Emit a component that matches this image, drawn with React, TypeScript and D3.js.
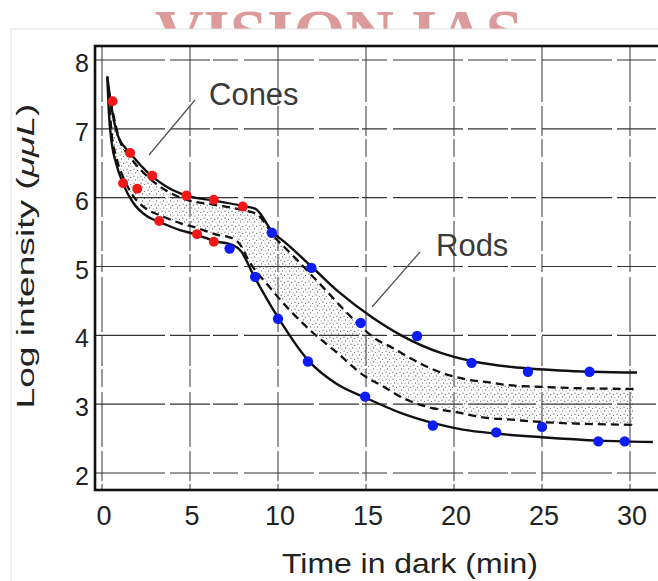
import React from "react";
import * as d3 from "d3";

type P = [number, number];

// Upper solid boundary (cones then rods), Time (min), Log intensity
const upperSolid: P[] = [
  [0.3, 7.76], [0.5, 7.38], [0.9, 6.9], [1.6, 6.65], [2.8, 6.32], [3.6, 6.17],
  [4.8, 6.03], [6.3, 5.96], [8.0, 5.88], [8.7, 5.84], [9.7, 5.5], [10.5, 5.33],
  [11.9, 5.0], [13.5, 4.62], [15.3, 4.27], [17.0, 4.0], [19.3, 3.74], [21.1, 3.62],
  [23.3, 3.54], [26.0, 3.49], [30.4, 3.46],
];
const lowerSolid: P[] = [
  [0.3, 7.76], [0.4, 7.2], [0.55, 6.8], [0.8, 6.5], [1.2, 6.2], [1.76, 5.93],
  [2.56, 5.73], [3.24, 5.65], [4.43, 5.53], [5.4, 5.46], [6.36, 5.37], [7.44, 5.31],
  [7.9, 5.22], [8.6, 4.88], [10.0, 4.26], [11.7, 3.64], [13.3, 3.3], [15.0, 3.09],
  [17.0, 2.87], [18.9, 2.72], [20.5, 2.63], [22.5, 2.57], [25.0, 2.52], [28.3, 2.47],
  [31.3, 2.45],
];
const upperDashed: P[] = [
  [0.35, 7.6], [0.6, 7.26], [1.0, 6.84], [1.6, 6.59], [2.8, 6.26], [4.8, 5.97],
  [6.3, 5.9], [8.0, 5.82], [8.8, 5.76], [9.8, 5.43], [10.8, 5.17], [12.7, 4.66],
  [14.1, 4.28], [15.6, 3.94], [16.5, 3.82], [17.5, 3.67], [18.5, 3.54], [19.6, 3.43],
  [20.7, 3.36], [21.9, 3.32], [23.0, 3.28], [25.0, 3.25], [30.2, 3.22],
];
const lowerDashed: P[] = [
  [0.38, 7.5], [0.55, 6.93], [0.8, 6.6], [1.2, 6.3], [1.76, 6.03], [2.56, 5.83],
  [3.24, 5.75], [4.43, 5.63], [5.4, 5.56], [6.4, 5.47], [7.4, 5.41], [7.9, 5.3],
  [8.24, 5.13], [9.55, 4.69], [11.8, 4.08], [13.35, 3.75], [14.8, 3.43], [16.1, 3.24],
  [17.1, 3.09], [18.5, 2.96], [20.2, 2.88], [21.9, 2.8], [23.0, 2.78], [25.0, 2.74],
  [30.2, 2.7],
];
const coneDots: P[] = [
  [0.6, 7.4], [1.6, 6.65], [1.2, 6.21], [2.0, 6.13], [2.85, 6.32], [3.25, 5.66],
  [4.8, 6.03], [5.4, 5.47], [6.35, 5.97], [6.35, 5.36], [8.0, 5.87],
];
const rodDots: P[] = [
  [7.25, 5.26], [8.7, 4.85], [9.65, 5.49], [10.0, 4.24], [11.7, 3.62], [11.9, 4.98],
  [14.7, 4.18], [14.95, 3.11], [17.9, 3.99], [18.8, 2.69], [21.0, 3.6], [22.4, 2.59],
  [24.2, 3.47], [25.0, 2.67], [27.7, 3.47], [28.2, 2.46], [29.7, 2.46],
];
const xTicks = [0, 5, 10, 15, 20, 25, 30];
const yTicks = [2, 3, 4, 5, 6, 7, 8];

const W = 658;
const H = 581;

export default function App() {
  const x = d3.scaleLinear().domain([0, 30]).range([102, 630]);
  const y = d3.scaleLinear().domain([2, 8]).range([473, 60]);
  const line = d3
    .line<P>()
    .x((d) => x(d[0]))
    .y((d) => y(d[1]))
    .curve(d3.curveMonotoneX);

  const up = line(upperDashed) || "";
  const lowRev = (line([...lowerDashed].reverse()) || "").replace(/^M/, "L");
  const stipplePath = up + lowRev + "Z";

  const font = "'Liberation Sans', Arial, sans-serif";

  return (
    <svg
      width={W}
      height={H}
      style={{ position: "absolute", left: 0, top: 0, background: "#fff" }}
    >
      <defs>
        <pattern id="stip" width="7" height="7" patternUnits="userSpaceOnUse">
          <circle cx="1" cy="1.2" r="0.6" fill="#555" />
          <circle cx="4.6" cy="2.4" r="0.55" fill="#666" />
          <circle cx="2.6" cy="4.9" r="0.6" fill="#555" />
          <circle cx="6.1" cy="5.8" r="0.5" fill="#777" />
        </pattern>
      </defs>

      {/* watermark, cut by panel */}
      <text
        x={155}
        y={56}
        fontFamily="'Liberation Serif', 'Times New Roman', serif"
        fontWeight="bold"
        fontSize={67}
        fill="#dc9a9a"
        textLength={368}
        lengthAdjust="spacingAndGlyphs"
      >
        VISION IAS
      </text>
      <rect x={11} y={29} width={W} height={H} fill="#fff" stroke="#e2e2e2" strokeWidth={1} />

      {/* grid */}
      {xTicks.map((t) => (
        <line
          key={"gx" + t}
          x1={x(t)}
          x2={x(t)}
          y1={47}
          y2={490}
          stroke="#333"
          strokeWidth={1}
          strokeDasharray="55,4,30,3,18,5"
        />
      ))}
      {yTicks.map((t) => (
        <line
          key={"gy" + t}
          x1={95}
          x2={656}
          y1={y(t)}
          y2={y(t)}
          stroke="#333"
          strokeWidth={1.1}
          strokeDasharray="70,5,40,3,25,6"
        />
      ))}

      {/* frame */}
      <rect x={95} y={46} width={565} height={444} fill="none" stroke="#111" strokeWidth={2.6} />

      {/* stipple band */}
      <path d={stipplePath} fill="url(#stip)" stroke="none" />

      {/* curves */}
      <path d={line(upperSolid) || ""} fill="none" stroke="#111" strokeWidth={2.4} />
      <path d={line(lowerSolid) || ""} fill="none" stroke="#111" strokeWidth={2.4} />
      <path d={line(upperDashed) || ""} fill="none" stroke="#111" strokeWidth={2.3} strokeDasharray="8,5" />
      <path d={line(lowerDashed) || ""} fill="none" stroke="#111" strokeWidth={2.3} strokeDasharray="8,5" />

      {/* dots */}
      {coneDots.map((d, i) => (
        <circle key={"c" + i} cx={x(d[0])} cy={y(d[1])} r={5} fill="#f21818" />
      ))}
      {rodDots.map((d, i) => (
        <circle key={"r" + i} cx={x(d[0])} cy={y(d[1])} r={5.2} fill="#0b1cf5" />
      ))}

      {/* annotations */}
      <line x1={195} y1={100} x2={149} y2={155} stroke="#555" strokeWidth={1.3} />
      <text x={209} y={105} fontFamily={font} fontSize={31} fill="#3a3a3a">
        Cones
      </text>
      <line x1={420} y1={252} x2={372} y2={307} stroke="#555" strokeWidth={1.3} />
      <text x={436} y={256} fontFamily={font} fontSize={31} fill="#3a3a3a">
        Rods
      </text>

      {/* tick labels */}
      {yTicks.map((t) => (
        <text
          key={"yl" + t}
          x={89}
          y={y(t) + 3}
          dy="0.36em"
          textAnchor="end"
          fontFamily={font}
          fontSize={25}
          fill="#222"
        >
          {t}
        </text>
      ))}
      {xTicks.map((t) => (
        <text
          key={"xl" + t}
          x={x(t) + 2}
          y={525}
          textAnchor="middle"
          fontFamily={font}
          fontSize={27}
          fill="#222"
        >
          {t}
        </text>
      ))}

      {/* axis titles */}
      <text
        x={410}
        y={573}
        textAnchor="middle"
        fontFamily={font}
        fontSize={28}
        fill="#222"
        textLength={256}
        lengthAdjust="spacingAndGlyphs"
      >
        Time in dark (min)
      </text>
      <text
        transform="translate(34,256) rotate(-90)"
        textAnchor="middle"
        fontFamily={font}
        fontSize={23}
        fill="#222"
        textLength={305}
        lengthAdjust="spacingAndGlyphs"
      >
        Log intensity (<tspan fontStyle="italic">μμL</tspan>)
      </text>
    </svg>
  );
}
